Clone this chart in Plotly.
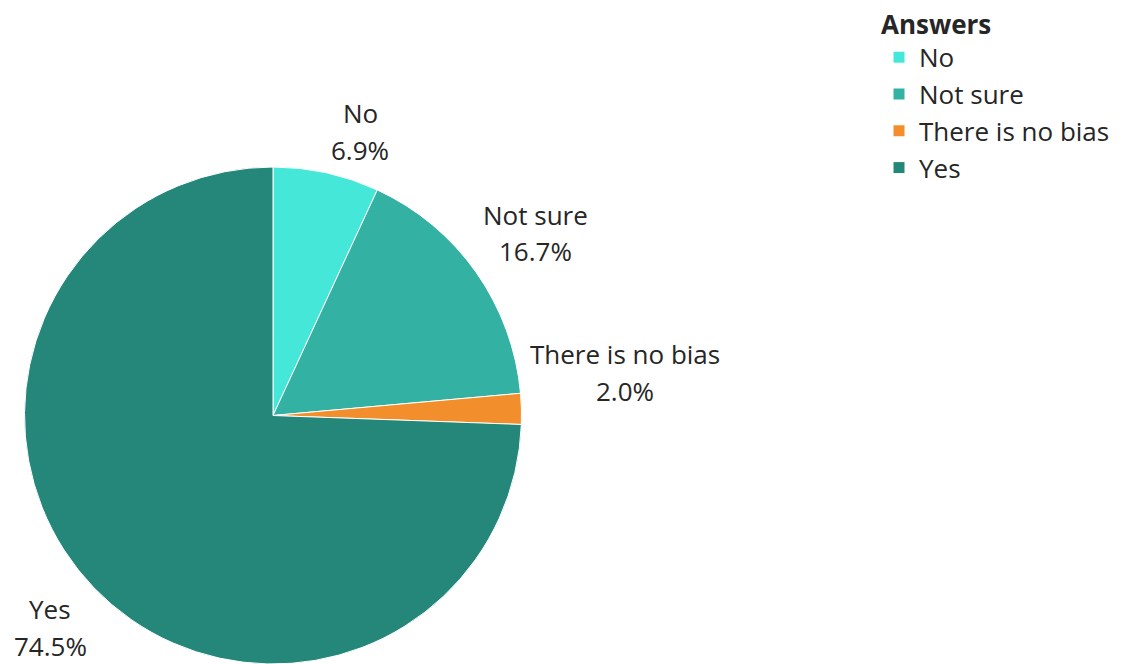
import plotly.graph_objects as go

# Survey answers and their share of responses (%)
answers = ["No", "Not sure", "There is no bias", "Yes"]
shares = [6.9, 16.7, 2.0, 74.5]
colors = ["#45E8D8", "#33B1A2", "#F28E2B", "#24877A"]

W, H = 1131, 664
FONT = "Open Sans"
TEXT = "#262626"
SIZE = 26

# pie geometry in pixels
cx, r = 273, 250
top = 167

fig = go.Figure(
    go.Pie(
        labels=answers,
        values=shares,
        sort=False,
        direction="clockwise",
        rotation=0,
        textinfo="none",
        hoverinfo="label+percent",
        marker=dict(colors=colors, line=dict(color="white", width=1)),
        domain=dict(x=[(cx - r) / W, (cx + r) / W], y=[0, 1 - top / H]),
    )
)

# label anchor points (pixels: centre of the two text lines)
label_pos = [(360, 131), (535, 233), (625, 372), (50, 627)]
line_gap = 37

annotations = []
for name, val, (lx, ly) in zip(answers, shares, label_pos):
    for txt, yy in ((name, ly - line_gap / 2), (f"{val:.1f}%", ly + line_gap / 2)):
        annotations.append(
            dict(
                x=lx / W, y=1 - yy / H, xref="paper", yref="paper",
                text=txt, showarrow=False, xanchor="center", yanchor="middle",
                font=dict(family=FONT, size=SIZE, color=TEXT),
            )
        )

fig.update_layout(
    width=W, height=H,
    margin=dict(l=0, r=0, t=0, b=0),
    paper_bgcolor="white", plot_bgcolor="white",
    font=dict(family=FONT, color=TEXT),
    showlegend=True,
    legend=dict(
        x=879 / W, y=1, xanchor="left", yanchor="top",
        title=dict(text="<b>Answers</b>", font=dict(family=FONT, size=SIZE, color=TEXT)),
        font=dict(family=FONT, size=SIZE, color=TEXT),
        bgcolor="rgba(0,0,0,0)",
    ),
    annotations=annotations,
)

fig.write_html("out.html")
